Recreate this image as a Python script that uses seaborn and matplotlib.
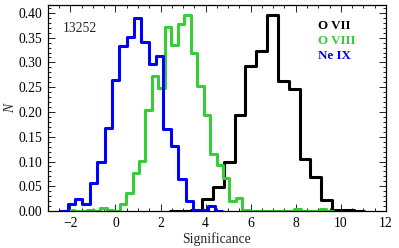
import numpy as np
import pandas as pd
import matplotlib
matplotlib.use("Agg")
import matplotlib.pyplot as plt
from matplotlib.ticker import MultipleLocator, FormatStrFormatter
import seaborn as sns

# bin ranges + normalised counts
ovii_lo, ovii_hi = 2.89, 10.57
ovii_N = [0.001, 0.002, 0.025, 0.049, 0.100, 0.194, 0.292, 0.324, 0.395, 0.263,
          0.246, 0.106, 0.069, 0.022, 0.003, 0.003]

oviii_lo, oviii_hi = -2.11, 9.36
oviii_N = [0.003, 0.000, 0.001, 0.003, 0.001, 0.006, 0.003, 0.001, 0.014, 0.037,
           0.077, 0.102, 0.204, 0.273, 0.248, 0.371, 0.335, 0.378, 0.396, 0.319,
           0.253, 0.194, 0.115, 0.093, 0.066, 0.021, 0.026, 0.002, 0.001, 0.001,
           0.001, 0.001, 0.001, 0.001, 0.001, 0.004, 0.001, 0.001, 0.001, 0.004]

neix_lo, neix_hi = -2.12, 4.42
neix_N = [0.015, 0.024, 0.014, 0.057, 0.100, 0.167, 0.265, 0.334, 0.352, 0.390,
          0.342, 0.296, 0.312, 0.165, 0.131, 0.065, 0.020, 0.003, 0.003, 0.011]

labels = ["O VII", "O VIII", "Ne IX"]
colors = ["black", "#38cc38", "#0000ff"]
obsid = "13252"

sns.set_theme(style="ticks")
plt.rcParams["font.family"] = ["Liberation Serif", "DejaVu Serif"]


def step_hist(ax, lo, hi, vals, color):
    edges = np.linspace(lo, hi, len(vals) + 1)
    w = edges[1] - edges[0]
    # pad with an empty bin either side so the outline drops to zero
    edges = np.r_[lo - w, edges, hi + w]
    df = pd.DataFrame({"sig": 0.5 * (edges[:-1] + edges[1:]),
                       "N": np.r_[0.0, vals, 0.0]})
    sns.histplot(data=df, x="sig", weights="N", bins=list(edges), stat="count",
                 element="step", fill=False, color=color, lw=2.2, ax=ax)


fig, ax = plt.subplots(figsize=(3.99, 2.48), dpi=100)
fig.subplots_adjust(left=0.120, right=0.967, top=0.980, bottom=0.149)

step_hist(ax, ovii_lo, ovii_hi, ovii_N, colors[0])
step_hist(ax, oviii_lo, oviii_hi, oviii_N, colors[1])
step_hist(ax, neix_lo, neix_hi, neix_N, colors[2])

ax.set_xlim(-3, 12)
ax.set_ylim(0, 0.416)
ax.xaxis.set_major_locator(MultipleLocator(2))
ax.xaxis.set_minor_locator(MultipleLocator(0.5))
ax.yaxis.set_major_locator(MultipleLocator(0.05))
ax.yaxis.set_minor_locator(MultipleLocator(0.01))
ax.yaxis.set_major_formatter(FormatStrFormatter("%.2f"))
ax.tick_params(which="both", direction="in", top=True, right=True,
               width=0.7, labelsize=9.8, colors="#222222", labelcolor="black")
ax.tick_params(which="major", length=4.8, pad=4)
ax.tick_params(which="minor", length=2.4)
for s in ax.spines.values():
    s.set_linewidth(0.9)
    s.set_color("black")

ax.set_xlabel("Significance", fontsize=9.8, labelpad=2)
ax.set_ylabel("N", fontsize=9.8, style="italic", labelpad=1)

ax.text(0.045, 0.887, obsid, transform=ax.transAxes, fontsize=9.8,
        va="center", ha="left")
for i, (lab, c) in enumerate(zip(labels, colors)):
    ax.text(0.80, 0.898 - 0.074 * i, lab, transform=ax.transAxes, color=c,
            fontsize=9.4, fontweight="bold", va="center", ha="left")

fig.savefig("out.png", dpi=100)
